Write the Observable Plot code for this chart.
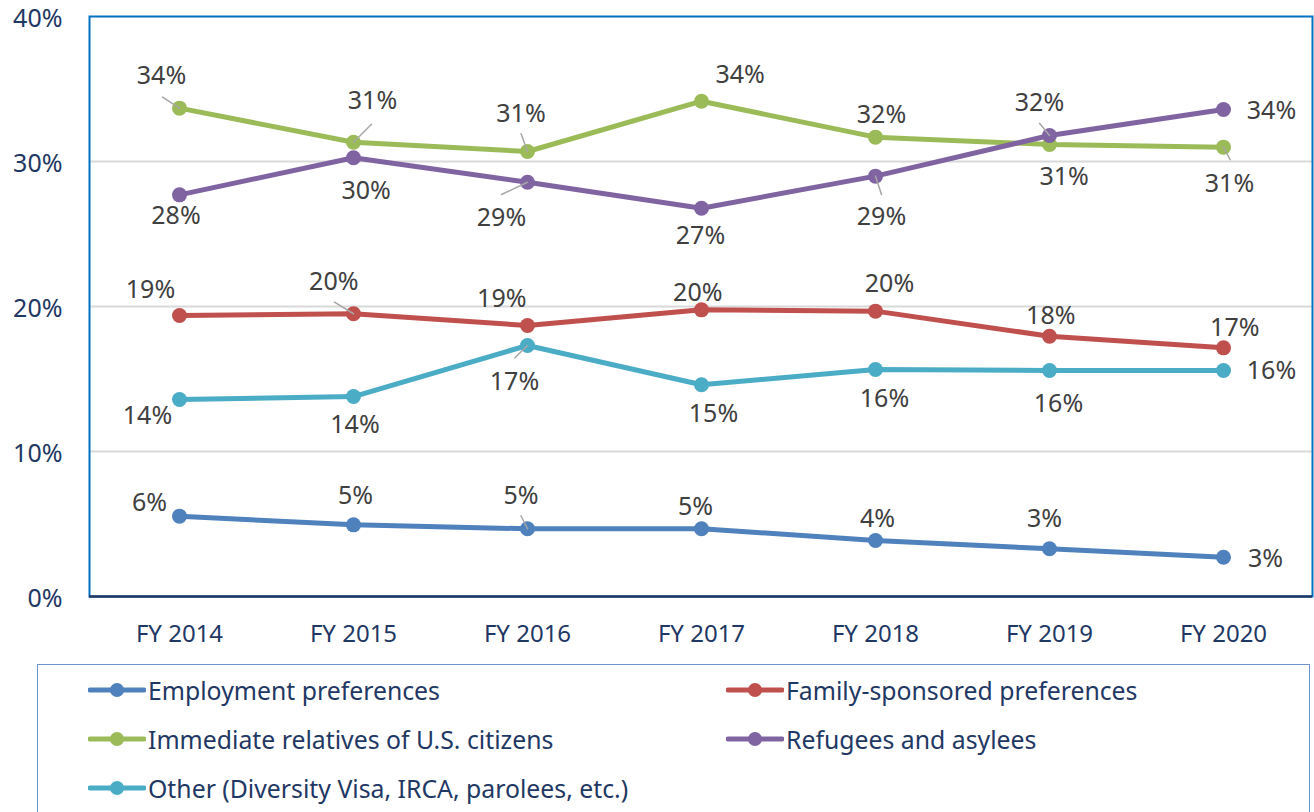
<!DOCTYPE html>
<html>
<head>
<meta charset="utf-8">
<script src="https://cdn.jsdelivr.net/npm/d3@7"></script>
<script src="https://cdn.jsdelivr.net/npm/@observablehq/plot@0.6"></script>
<style>
  html, body { margin: 0; padding: 0; background: #fff; }
  #wrap { position: relative; width: 1314px; height: 812px; overflow: hidden; font-family: "Noto Sans", sans-serif; }
  #chart svg { display: block; overflow: visible; }
  #legend {
    position: absolute; left: 37px; top: 664px; width: 1273px; height: 200px;
    border: 1.5px solid #6f95cc; box-sizing: border-box;
    display: grid; grid-template-columns: 638px auto; grid-auto-rows: 49px;
    padding-left: 50px; padding-top: 0px;
  }
  .item { display: flex; align-items: center; height: 49px; font-size: 24.8px; color: #1f3864; white-space: nowrap; }
  .item svg { margin-right: 2px; flex: none; }
</style>
</head>
<body>
<div id="wrap">
  <div id="chart"></div>
  <div id="legend"></div>
</div>
<script>
// ---- data ----
const years = ["FY 2014", "FY 2015", "FY 2016", "FY 2017", "FY 2018", "FY 2019", "FY 2020"];
const seriesNames = [
  "Employment preferences",
  "Family-sponsored preferences",
  "Immediate relatives of U.S. citizens",
  "Refugees and asylees",
  "Other (Diversity Visa, IRCA, parolees, etc.)"
];
const employment = [5.54, 4.94, 4.67, 4.67, 3.86, 3.29, 2.71];
const family     = [19.38, 19.5, 18.69, 19.77, 19.68, 17.95, 17.15];
const immediate  = [33.68, 31.33, 30.69, 34.16, 31.68, 31.17, 30.99];
const refugees   = [27.70, 30.26, 28.57, 26.78, 28.99, 31.79, 33.59];
const other      = [13.59, 13.79, 17.31, 14.60, 15.66, 15.59, 15.59];
const yTicks = [0, 10, 20, 30, 40];
const colors = ["#4f81bd", "#c0504d", "#9bbb59", "#8064a2", "#4bacc6"];

// ---- label placement (pixel offsets from each point) ----
const labelDx = [
  [-30, 2, -6.5, -6, 2, -5, 42],
  [-29, -19.7, -25.7, -3.7, 14, 1.3, 11.3],
  [-18, 19, -6.5, 38.7, 6, 14.7, 6],
  [-3.5, 12.7, -26, -1, 6, -10, 48],
  [-32, 1.5, -13, 12, 9, 9, 48]
];
const labelDy = [
  [-13, -28.5, -32.5, -21.6, -21.7, -30, 2],
  [-25, -32, -26, -17, -27, -20.7, -20],
  [-32, -41, -37.5, -26.5, -22.5, 32, 36.7],
  [21, 33, 36, 28, 41, -32.5, 2],
  [17, 28, 36, 29, 30, 34, 1]
];
// leader lines: [series index, year index, pixel dx, pixel dy]
const leaders = [
  [2, 0, -17, -11], [2, 1, 18, -18], [2, 2, -6.4, -17.7], [3, 2, -26, 12.3],
  [3, 4, 6, 18.3], [3, 5, -10, -12.3], [2, 6, 6.7, 12.6], [1, 1, -19, -11.6],
  [4, 2, -12.7, 12.3], [0, 2, -6.5, -13]
];

const seriesValues = [employment, family, immediate, refugees, other];
const rows = [];
seriesValues.forEach((vals, s) => vals.forEach((v, i) => rows.push({series: seriesNames[s], year: years[i], value: v, s, i})));

const labelMarks = rows.map(d => Plot.text([d], {
  x: "year", y: "value", text: r => Math.round(r.value) + "%",
  dx: labelDx[d.s][d.i], dy: labelDy[d.s][d.i],
  fill: "#404040", fontSize: 25
}));

const lineShape = { draw(context, l) { context.moveTo(0, 0); context.lineTo(0, -l); } };
const leaderMarks = leaders.map(([s, i, dx, dy]) => {
  const d = rows.find(r => r.s === s && r.i === i);
  return Plot.vector([d], {
    x: "year", y: "value", anchor: "start",
    length: Math.hypot(dx, dy),
    rotate: Math.atan2(dx, -dy) * 180 / Math.PI,
    shape: lineShape, stroke: "#a6a6a6", strokeWidth: 1.5
  });
});

const chart = Plot.plot({
  width: 1314,
  height: 656,
  marginLeft: 89,
  marginRight: 2,
  marginTop: 16,
  marginBottom: 60,
  style: { fontFamily: "Noto Sans", fontSize: "25px", background: "#fff", overflow: "visible" },
  x: { type: "point", domain: years, padding: 0.5, label: null },
  y: { domain: [0, 40], label: null },
  color: { domain: seriesNames, range: colors },
  marks: [
    Plot.ruleY([10, 20, 30], { stroke: "#d9d9d9", strokeWidth: 2 }),
    Plot.frame({ stroke: "#0070c0", strokeWidth: 2 }),
    Plot.ruleY([0], { stroke: "#1f3864", strokeWidth: 2.5 }),
    Plot.axisY({ ticks: yTicks, tickFormat: d => d + "%", tickSize: 0, tickPadding: 27, dy: 2, fontSize: 25, color: "#1f3864", label: null }),
    Plot.axisX({ tickSize: 0, tickPadding: 28, fontSize: 24, color: "#1f3864", label: null }),
    Plot.line(rows, { x: "year", y: "value", stroke: "series", z: "series", strokeWidth: 5, strokeLinejoin: "round", strokeLinecap: "round" }),
    Plot.dot(rows, { x: "year", y: "value", fill: "series", r: 7.5 }),
    ...leaderMarks,
    ...labelMarks
  ]
});
document.getElementById("chart").appendChild(chart);

// ---- legend ----
const legend = document.getElementById("legend");
seriesNames.forEach((name, s) => {
  const item = document.createElement("div");
  item.className = "item";
  item.innerHTML = `<svg width="58" height="20"><line x1="2" y1="10" x2="56" y2="10" stroke="${colors[s]}" stroke-width="5" stroke-linecap="round"/><circle cx="29" cy="10" r="7" fill="${colors[s]}"/></svg><span>${name}</span>`;
  legend.appendChild(item);
});
</script>
</body>
</html>
